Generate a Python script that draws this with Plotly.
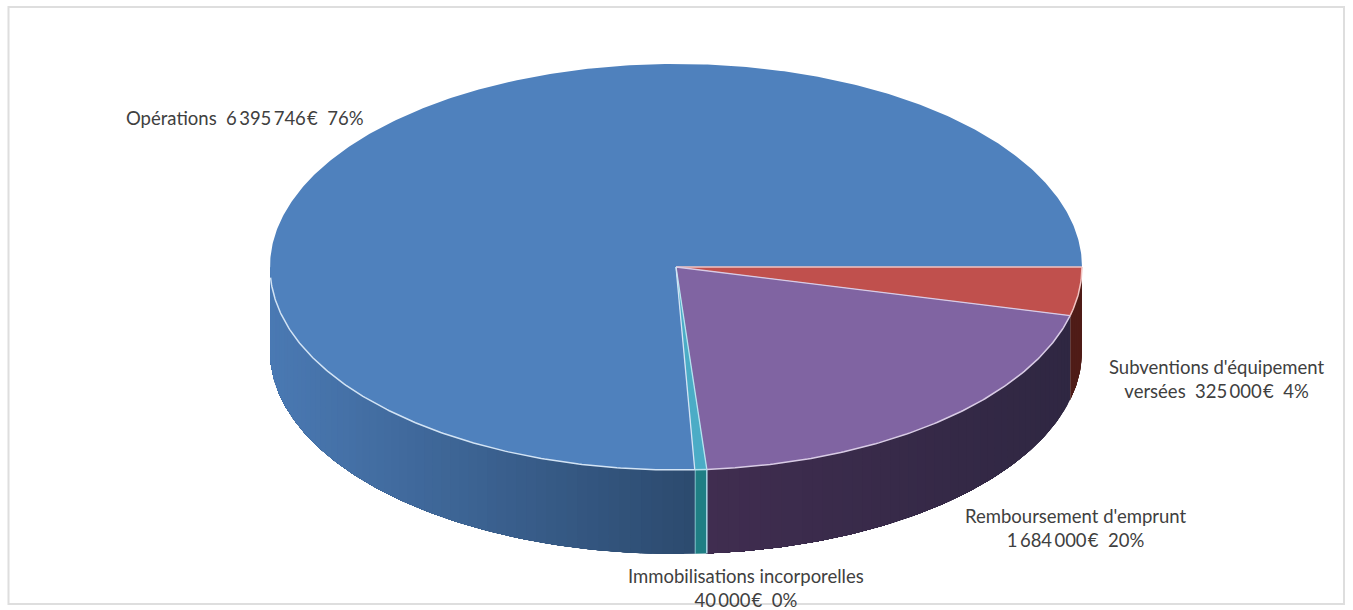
import math
import plotly.graph_objects as go

# --- data ---
labels = ["Subventions d'équipement<br>versées", "Remboursement d'emprunt<br>", "Immobilisations incorporelles<br>", "Opérations"]
values = [325000, 1684000, 40000, 6395746]
top_colors = ["#C0504D", "#8064A2", "#4BACC6", "#4F81BD"]
side_from = ["#4F1C17", "#2F2742", "#1F7E84", "#2C4A6E"]
side_to = ["#4F1C17", "#402D50", "#1F7E84", "#4A79B3"]
edge_colors = ["#F2C4C2", "#D9CCE6", "#B5E3EF", "#D3E4F5"]
label_x = [1216, 1075, 746, 245]
label_y = [379, 528, 588, 118]

# --- pie geometry in the page's pixel frame ---
CX, CY, RX, RY, DEPTH = 676, 267, 406, 203, 84
W, H = 1353, 610


def pt(deg, dy=0):
    a = math.radians(deg)
    return CX + RX * math.cos(a), CY + RY * math.sin(a) + dy


def arc(a, b, dy=0, step=0.5):
    n = max(2, int(abs(b - a) / step) + 1)
    pts = [pt(a + (b - a) * i / (n - 1), dy) for i in range(n)]
    return [p[0] for p in pts], [p[1] for p in pts]


def mix(c1, c2, t):
    c = [int(c1[i:i + 2], 16) * (1 - t) + int(c2[i:i + 2], 16) * t for i in (1, 3, 5)]
    return "rgb(%d,%d,%d)" % tuple(round(v) for v in c)


def stroke(xs, ys, color, width):
    fig.add_trace(go.Scatter(x=xs, y=ys, mode="lines", line=dict(color=color, width=width),
                             hoverinfo="skip"))


total = sum(values)
fig = go.Figure()
start = 0.0
spans = []
for v in values:
    end = start + 360 * v / total
    spans.append((start, end))
    start = end

# sides: each band runs to the end of its slice and the next one paints over it,
# so that no seam shows between the shades
for i, (a, b) in enumerate(spans):
    b2 = min(b, 180)
    if a >= 180:
        continue
    n = max(1, int((b2 - a) / 1.5))
    x0 = pt(a)[0]
    x1 = pt(b2)[0]
    for k in range(n):
        s = a + (b2 - a) * k / n
        mid = a + (b2 - a) * (k + 0.5) / n
        xt, yt = arc(s, b2)
        xb, yb = arc(b2, s, DEPTH)
        t = (pt(mid)[0] - x0) / (x1 - x0)
        col = mix(side_from[i], side_to[i], t)
        fig.add_trace(go.Scatter(x=xt + xb + [xt[0]], y=yt + yb + [yt[0]], mode="lines",
                                 fill="toself", fillcolor=col,
                                 line=dict(color=col, width=0), hoverinfo="skip"))
    if i == 2:
        for ang in (a, b):
            p = pt(ang)
            stroke([p[0], p[0]], [p[1], p[1] + DEPTH], edge_colors[i], 1.4)
    if i == 0:
        p = pt(b)
        stroke([p[0], p[0]], [p[1], p[1] + DEPTH], "#8A6A66", 0.8)

# top faces
for i, (a, b) in enumerate(spans):
    xs, ys = arc(a, b)
    fig.add_trace(go.Scatter(x=[CX] + xs + [CX], y=[CY] + ys + [CY], mode="lines",
                             fill="toself", fillcolor=top_colors[i],
                             line=dict(color=top_colors[i], width=0), hoverinfo="skip"))

# light edges: radii and the front rim only
for i, (a, b) in enumerate(spans):
    p = pt(a)
    stroke([CX, p[0]], [CY, p[1]], edge_colors[i], 1.3)
for i, (a, b) in enumerate(spans):
    if a < 177:
        xs, ys = arc(a, min(b, 177))
        stroke(xs, ys, edge_colors[i], 1.5)

# labels
for i, v in enumerate(values):
    amount = f"{v:,}".replace(",", "\u2009") + "\u200a€"
    pct = f"{round(100 * v / total)}%"
    head = labels[i]
    text = f"{head}  {amount}  {pct}" if not head.endswith("<br>") else f"{head}{amount}  {pct}"
    fig.add_annotation(x=label_x[i], y=label_y[i], text=text, showarrow=False,
                       font=dict(family="Lato", size=18.5, color="#404040"),
                       align="center", xref="x", yref="y")

fig.update_layout(
    width=W, height=H, margin=dict(l=0, r=0, t=0, b=0),
    paper_bgcolor="#FFFFFF", plot_bgcolor="#FFFFFF", showlegend=False,
    xaxis=dict(range=[0, W], visible=False, fixedrange=True),
    yaxis=dict(range=[H, 0], visible=False, fixedrange=True),
    shapes=[dict(type="rect", xref="x", yref="y", x0=8.5, y0=7, x1=1344, y1=604,
                 line=dict(color="#DEDEDE", width=2), layer="below")],
)
fig.write_html("out.html", post_script="document.body.style.margin='0';document.body.style.overflow='hidden';",
               config=dict(displayModeBar=False))
